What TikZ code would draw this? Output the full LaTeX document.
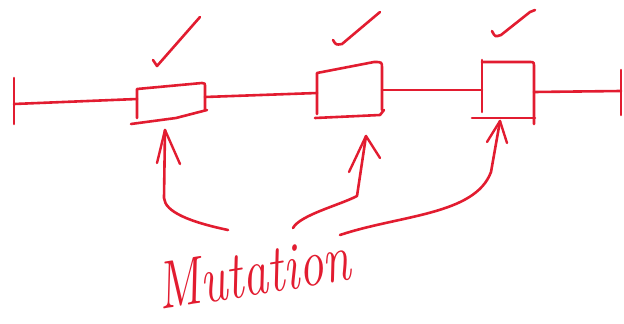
\documentclass[tikz,border=0pt]{standalone}
\usetikzlibrary{calc}
\definecolor{inkred}{RGB}{226,28,48}
\begin{document}
\begin{tikzpicture}[x=1pt,y=-1pt,
  ink/.style={draw=inkred,line width=2.6pt,line cap=round,line join=round},
  caret/.style={ink,line width=2.4pt}]
\useasboundingbox (0,0) rectangle (624,324);

% end stops of the strand
\coordinate (endL) at (14,104);
\coordinate (endR) at (621,91);
\draw[ink] (14,78) -- (14,124);
\draw[ink] (621,70) -- (621,115);

% three marked segments
\draw[ink] (137,118) -- (137,89) -- (202,83) .. controls (205,83) .. (205,88) -- (205,110);
\draw[ink] (131,124) -- (176,118) -- (207,110);
\draw[ink] (317,114) -- (317,73) -- (374,62) .. controls (382,62) .. (382,68) -- (382,110);
\draw[ink] (315,118) -- (380,115) -- (384,110);
\draw[ink] (482,112) -- (482,60);
\draw[ink] (482,62) -- (530,62) .. controls (534,62) .. (534,68) -- (534,124);
\draw[ink] (472,118) -- (535,118);

% strand pieces between segments
\draw[ink] (endL) -- (137,99);
\draw[ink] (205,97) -- (317,93);
\draw[ink] (382,90) -- (482,90);
\draw[ink] (534,92) -- (endR);

% check marks
\draw[ink] (153,60) -- (157,66) -- (200,17);
\draw[ink] (333,40) .. controls (336,45) .. (342,44) -- (380,12);
\draw[ink] (492,31) .. controls (495,37) .. (501,35) -- (530,12) -- (535,10);

% label
\node[text=inkred,font=\fontsize{50}{50}\selectfont\itshape,rotate=9,yscale=1.35,
  anchor=base west,inner sep=0pt] (mut) at (160,310) {Mutation};

% arrows from the label up to each segment
\coordinate (a1) at (165,130);
\coordinate (a2) at (366,136);
\coordinate (a3) at (500,121);
\draw[ink] (228,230) .. controls (190,222) and (165,212) .. (164,198) -- (a1);
\draw[caret] (157,163) -- (a1) -- (180,164);
\draw[ink] (293,228) .. controls (300,215) and (340,205) .. (357,196) -- (a2);
\draw[caret] (349,172) -- (a2) -- (380,158);
\draw[ink] (340,235) .. controls (400,215) and (475,215) .. (491,172) -- (a3);
\draw[caret] (487,142) -- (a3) -- (507,143);
\end{tikzpicture}
\end{document}
